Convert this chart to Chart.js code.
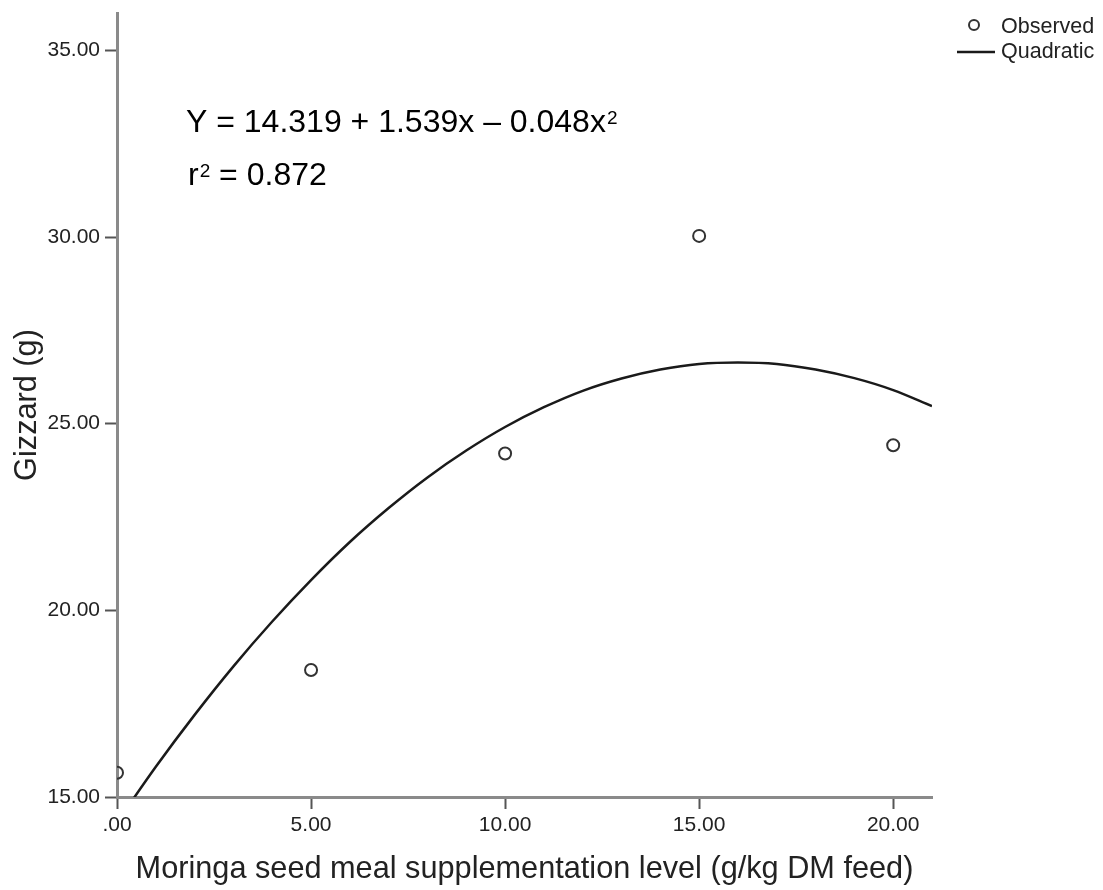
<!DOCTYPE html>
<html>
<head>
<meta charset="utf-8">
<script src="https://cdn.jsdelivr.net/npm/chart.js@4"></script>
<style>
  html, body { margin: 0; padding: 0; background: #fff; }
  #wrap { width: 1103px; height: 890px; }
</style>
</head>
<body>
<div id="wrap"><canvas id="gizzardChart"></canvas></div>
<script>
// Observed means
const observedX = [0, 5, 10, 15, 20];
const observedY = [15.65, 18.40, 24.20, 30.03, 24.42];

// Quadratic fit curve at each level
const fitX = [0, 1, 2, 3, 4, 5, 6, 7, 8, 9, 10, 11, 12, 13, 14, 15, 16, 17, 18, 19, 20, 21];
const fitY = [14.32, 15.81, 17.20, 18.50, 19.70, 20.81, 21.83, 22.74, 23.56, 24.28, 24.91,
              25.44, 25.88, 26.21, 26.45, 26.60, 26.64, 26.60, 26.45, 26.22, 25.90, 25.47];

// Axis ticks
const xTicks = [0, 5, 10, 15, 20];
const yTicks = [15, 20, 25, 30, 35];

const FONT = "'Liberation Sans', Arial, sans-serif";

function fmtTick(value) {
    return value === 0 ? '.00' : value.toFixed(2);
}

// equation, r squared and the legend in the top right corner
const overlayPlugin = {
    id: 'overlay',
    afterDraw: function(chart) {
        const ctx = chart.ctx;
        ctx.save();
        ctx.fillStyle = '#000';
        ctx.textBaseline = 'alphabetic';
        ctx.textAlign = 'left';

        // Y = ... x^2
        ctx.font = '32px ' + FONT;
        const eq = 'Y = 14.319 + 1.539x \u2013 0.048x';
        ctx.fillText(eq, 186, 132);
        const eqW = ctx.measureText(eq).width;
        ctx.font = '19px ' + FONT;
        ctx.fillText('2', 186 + eqW + 1, 124);

        // r^2 = 0.872
        ctx.font = '32px ' + FONT;
        ctx.fillText('r', 188, 185);
        const rW = ctx.measureText('r').width;
        ctx.font = '19px ' + FONT;
        ctx.fillText('2', 188 + rW + 1, 177);
        const supW = ctx.measureText('2').width;
        ctx.font = '32px ' + FONT;
        ctx.fillText(' = 0.872', 188 + rW + supW + 1, 185);

        // legend
        ctx.strokeStyle = '#333';
        ctx.lineWidth = 2;
        ctx.beginPath();
        ctx.arc(974, 25, 5, 0, Math.PI * 2);
        ctx.stroke();
        ctx.strokeStyle = '#1a1a1a';
        ctx.lineWidth = 2.5;
        ctx.beginPath();
        ctx.moveTo(957, 52);
        ctx.lineTo(995, 52);
        ctx.stroke();
        ctx.font = '21.5px ' + FONT;
        ctx.fillStyle = '#222';
        ctx.textBaseline = 'middle';
        ctx.fillText('Observed', 1001, 27);
        ctx.fillText('Quadratic', 1001, 52);
        ctx.restore();
    }
};

new Chart(document.getElementById('gizzardChart'), {
    type: 'scatter',
    data: {
        datasets: [
            {
                label: 'Quadratic',
                data: fitX.map(function(x, i) { return { x: x, y: fitY[i] }; }),
                showLine: true,
                borderColor: '#1a1a1a',
                borderWidth: 2.5,
                pointRadius: 0,
                cubicInterpolationMode: 'monotone',
                clip: 0,
                order: 2
            },
            {
                label: 'Observed',
                data: observedX.map(function(x, i) { return { x: x, y: observedY[i] }; }),
                showLine: false,
                pointRadius: 6,
                pointBorderWidth: 2,
                pointBorderColor: '#333',
                pointBackgroundColor: 'rgba(255,255,255,0)',
                clip: 0,
                order: 1
            }
        ]
    },
    options: {
        responsive: true,
        maintainAspectRatio: false,
        animation: false,
        layout: {
            padding: { left: 9, right: 171, top: 13, bottom: 2 }
        },
        plugins: {
            legend: { display: false },
            tooltip: { enabled: false }
        },
        scales: {
            x: {
                type: 'linear',
                min: 0,
                max: 21,
                afterBuildTicks: function(scale) {
                    scale.ticks = xTicks.map(function(v) { return { value: v }; });
                },
                afterFit: function(scale) {
                    scale.height = 91;
                    scale.paddingLeft = 0;
                    scale.paddingRight = 0;
                },
                grid: {
                    drawOnChartArea: false,
                    tickLength: 12,
                    tickColor: '#555',
                    tickWidth: 2
                },
                border: { color: '#8a8a8a', width: 3 },
                ticks: {
                    padding: 4,
                    color: '#222',
                    font: { family: FONT, size: 21 },
                    maxRotation: 0,
                    callback: fmtTick
                },
                title: {
                    display: true,
                    text: 'Moringa seed meal supplementation level (g/kg DM feed)',
                    color: '#222',
                    padding: 0,
                    font: { family: FONT, size: 30.7 }
                }
            },
            y: {
                type: 'linear',
                min: 15,
                max: 36,
                afterBuildTicks: function(scale) {
                    scale.ticks = yTicks.map(function(v) { return { value: v }; });
                },
                afterFit: function(scale) {
                    scale.width = 108;
                    scale.paddingTop = 0;
                    scale.paddingBottom = 0;
                },
                grid: {
                    drawOnChartArea: false,
                    tickLength: 12,
                    tickColor: '#555',
                    tickWidth: 2
                },
                border: { color: '#8a8a8a', width: 3 },
                ticks: {
                    padding: 5,
                    color: '#222',
                    font: { family: FONT, size: 21, lineHeight: 1 },
                    callback: fmtTick
                },
                title: {
                    display: true,
                    text: 'Gizzard (g)',
                    color: '#222',
                    padding: 0,
                    font: { family: FONT, size: 30.7 }
                }
            }
        }
    },
    plugins: [overlayPlugin]
});
</script>
</body>
</html>
